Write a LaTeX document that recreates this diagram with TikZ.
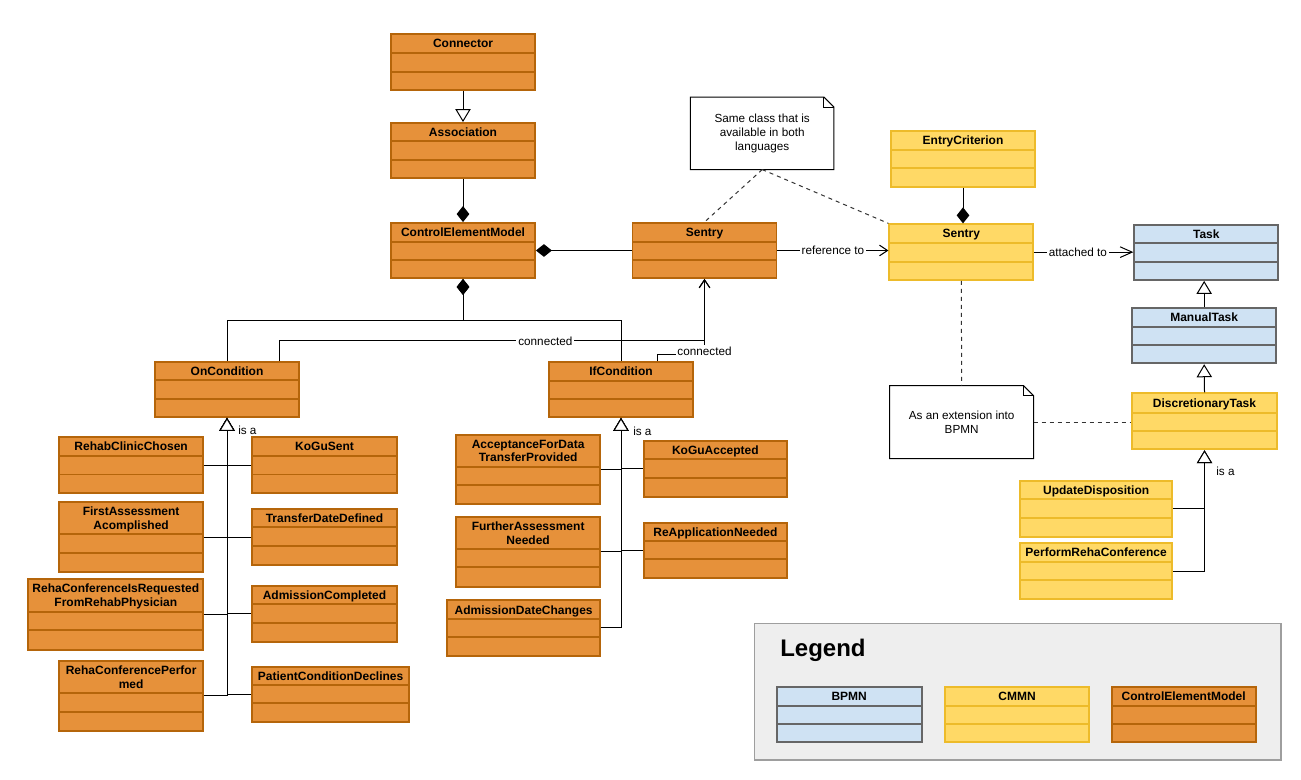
\documentclass[tikz,border=0pt]{standalone}
\usepackage{fontspec}
\setmainfont{Liberation Sans}
\usetikzlibrary{arrows.meta,calc,fit}

\definecolor{orgfill}{HTML}{E6913A}
\definecolor{orgline}{HTML}{B5650A}
\definecolor{ylwfill}{HTML}{FFD966}
\definecolor{ylwline}{HTML}{EDBB2A}
\definecolor{bluefill}{HTML}{CFE2F3}
\definecolor{blueline}{HTML}{666666}
\definecolor{legendfill}{HTML}{EEEEEE}
\definecolor{legendline}{HTML}{9E9E9E}

% UML class box: #1 style, #2 name, #3 left, #4 top, #5 right,
% #6 first rule, #7 second rule, #8 bottom, #9 title
\newcommand\umlclass[9]{%
  \node[fit={(#3,#4)(#5,#8)}, inner sep=0pt, #1] (#2) {};
  \draw[#1, fill=none] (#3,#6) -- (#5,#6) (#3,#7) -- (#5,#7);
  \node[classtitle] (#2title) at ({(#3+#5)/2},{(#4+#6)/2}) {#9};
}

\tikzset{
  orangecls/.style={draw=orgline, fill=orgfill, line width=1.4pt},
  yellowcls/.style={draw=ylwline, fill=ylwfill, line width=1.4pt},
  bluecls/.style={draw=blueline, fill=bluefill, line width=1.4pt},
  classtitle/.style={font=\fontsize{9}{10.3}\selectfont\bfseries, align=center,
    inner sep=0pt, text depth=0pt},
  lbl/.style={font=\fontsize{8.8}{10.5}\selectfont, inner sep=1.5pt},
  link/.style={draw=black, line width=0.75pt},
  gen/.style={link, -{Triangle[fill=white, length=9.75pt, width=11.5pt]}},
  comp/.style={link, -{Diamond[length=12pt, width=9.5pt]}},
  assoc/.style={link, -{Straight Barb[length=6pt, width=8pt]}},
  notelink/.style={draw=black!80, line width=0.75pt, dash pattern=on 3pt off 3pt},
  notebox/.style={draw=black, fill=white, line width=0.75pt},
}

\begin{document}
\begin{tikzpicture}[x=0.75pt, y=-0.75pt]
\useasboundingbox (0,0) rectangle (1301,780);

% ---------- legend panel ----------
\node[fit={(754.3,623.3)(1281,760)}, inner sep=0pt, draw=legendline,
  fill=legendfill, line width=1pt] (legend) {};
\node[font=\fontsize{18}{20}\selectfont\bfseries, anchor=base west, inner sep=0pt]
  (legendtitle) at (780,656) {Legend};
\umlclass{bluecls}{lgBPMN}{776.7}{686.7}{921.7}{705.7}{724}{742.3}{BPMN}
\umlclass{yellowcls}{lgCMMN}{945}{686.7}{1089}{705.7}{724}{742.3}{CMMN}
\umlclass{orangecls}{lgCEM}{1111.7}{686.7}{1255.7}{705.7}{724}{742.3}{ControlElementModel}

% ---------- control element model (orange) ----------
\umlclass{orangecls}{Connector}{391}{34}{535}{53}{72}{90}{Connector}
\umlclass{orangecls}{Association}{391}{123}{535}{141}{160}{178}{Association}
\umlclass{orangecls}{CEM}{391}{223}{535}{242}{260}{278}{ControlElementModel}
\umlclass{orangecls}{SentryA}{632.5}{223}{776.5}{242}{260}{278}{Sentry}
\umlclass{orangecls}{OnCondition}{155}{362}{299}{380}{399}{417}{OnCondition}
\umlclass{orangecls}{IfCondition}{549}{362}{693}{381}{399}{417}{IfCondition}

\umlclass{orangecls}{RehabClinicChosen}{59}{437}{203.3}{456}{474.5}{493}{RehabClinicChosen}
\umlclass{orangecls}{KoGuSent}{252.3}{437}{396.7}{456}{474.5}{493}{KoGuSent}
\umlclass{orangecls}{FirstAssessment}{59}{502.3}{203.3}{534}{553}{572.3}{FirstAssessment\\Acomplished}
\umlclass{orangecls}{TransferDateDefined}{252.3}{509.3}{396.7}{527.3}{546}{565}{TransferDateDefined}
\umlclass{orangecls}{RehaConfRequested}{28.3}{579.3}{203.3}{611.7}{630}{650}{RehaConferenceIsRequested\\FromRehabPhysician}
\umlclass{orangecls}{AdmissionCompleted}{252.3}{585.7}{396.7}{604.3}{622.7}{641.7}{AdmissionCompleted}
\umlclass{orangecls}{RehaConfPerformed}{59}{660.7}{203.3}{693.3}{711.7}{730.7}{RehaConferencePerfor\\med}
\umlclass{orangecls}{PatientCondition}{252.3}{666.7}{409}{685}{703.3}{722.3}{PatientConditionDeclines}

\umlclass{orangecls}{AcceptanceData}{456}{435}{600.3}{466.7}{485}{504.3}{AcceptanceForData\\TransferProvided}
\umlclass{orangecls}{KoGuAccepted}{643.7}{441}{787}{459.3}{477.7}{496.7}{KoGuAccepted}
\umlclass{orangecls}{FurtherAssessment}{456}{516.7}{600.3}{549}{567.3}{586.7}{FurtherAssessment\\Needed}
\umlclass{orangecls}{ReApplication}{643.7}{522.7}{787}{541}{559.3}{578.3}{ReApplicationNeeded}
\umlclass{orangecls}{AdmissionDate}{447.3}{600}{600}{619.3}{637.3}{655.7}{AdmissionDateChanges}

% ---------- CMMN (yellow) ----------
\umlclass{yellowcls}{EntryCriterion}{890.7}{130.7}{1035.3}{150}{168.3}{186.7}{EntryCriterion}
\umlclass{yellowcls}{SentryY}{889.3}{224.3}{1033.3}{243.3}{261.7}{280}{Sentry}
\umlclass{yellowcls}{Discretionary}{1132.3}{393.3}{1276.7}{412.7}{431}{449.3}{DiscretionaryTask}
\umlclass{yellowcls}{UpdateDisposition}{1020}{480.7}{1172.3}{499.3}{517.7}{536.7}{UpdateDisposition}
\umlclass{yellowcls}{PerformReha}{1020}{542.7}{1172.3}{561.7}{580}{599.3}{PerformRehaConference}

% ---------- BPMN (blue) ----------
\umlclass{bluecls}{Task}{1134.3}{225}{1278.3}{243.3}{261.7}{280}{Task}
\umlclass{bluecls}{ManualTask}{1132.3}{308.3}{1276}{326.7}{345}{363.3}{ManualTask}

% ---------- notes ----------
\node[fit={(690.7,97.3)(833.7,169.3)}, inner sep=0pt] (noteSame) {};
\draw[notebox] (noteSame.north west) -- ($(noteSame.north east)+(-10,0)$)
  -- ($(noteSame.north east)+(0,10)$) -- (noteSame.south east)
  -- (noteSame.south west) -- cycle;
\draw[notebox, fill=none] ($(noteSame.north east)+(-10,0)$)
  -- ($(noteSame.north east)+(-10,10)$) -- ($(noteSame.north east)+(0,10)$);
\node[lbl, align=center] (noteSameText) at (noteSame.center)
  {Same class that is\\available in both\\languages};

\node[fit={(890,386)(1033.3,458.3)}, inner sep=0pt] (noteExt) {};
\draw[notebox] (noteExt.north west) -- ($(noteExt.north east)+(-10,0)$)
  -- ($(noteExt.north east)+(0,10)$) -- (noteExt.south east)
  -- (noteExt.south west) -- cycle;
\draw[notebox, fill=none] ($(noteExt.north east)+(-10,0)$)
  -- ($(noteExt.north east)+(-10,10)$) -- ($(noteExt.north east)+(0,10)$);
\node[lbl, align=center] (noteExtText) at (noteExt.center)
  {As an extension into\\BPMN};

% ---------- note links ----------
\draw[notelink] (noteSame.south) -- (SentryA.north);
\draw[notelink] (noteSame.south) -- (SentryY.north west);
\draw[notelink] (SentryY.south) -- (noteExt.north);
\draw[notelink] (noteExt.east) -- (noteExt.east -| Discretionary.west);

% ---------- compositions ----------
\draw[comp] (Association.south) -- (CEM.north);
\draw[comp] (SentryA.west) -- (CEM.east);
\draw[comp] (OnCondition.north) |- ($(CEM.south)+(0,42)$) -- (CEM.south);
\draw[comp] (IfCondition.north) |- ($(CEM.south)+(0,42)$) -- (CEM.south);
\draw[comp] (EntryCriterion.south) -- (EntryCriterion.south |- SentryY.north);

% ---------- associations ----------
\draw[assoc] ($(OnCondition.north west)+(125,0)$)
  |- node[lbl, fill=white, pos=0.813] (lblConn1) {connected}
  ($(SentryA.south)+(0,62)$) -- (SentryA.south);
\draw[assoc] ($(IfCondition.north west)+(109,0)$)
  |- ($(SentryA.south)+(0,76)$)
  node[lbl, fill=white, inner sep=1pt, yshift=3pt] (lblConn2) {connected}
  -- (SentryA.south);
\draw[assoc] (SentryA.east) -- node[lbl, fill=white] (lblRef) {reference to}
  (SentryA.east -| SentryY.west);
\draw[link, -{Straight Barb[length=9pt, width=8pt]}] (SentryY.east)
  -- node[lbl, fill=white, pos=0.44] (lblAtt) {attached to} (SentryY.east -| Task.west);

% ---------- generalisations ----------
\draw[gen] (Association.north |- Connector.south) -- (Association.north);
\draw[gen] (ManualTask.north) -- (ManualTask.north |- Task.south);
\draw[gen] (Discretionary.north) -- (ManualTask.south);

\foreach \child in {RehabClinicChosen, FirstAssessment, RehaConfRequested, RehaConfPerformed}
  \draw[gen] (\child.east) -| (OnCondition.south);
\foreach \child in {KoGuSent, TransferDateDefined, AdmissionCompleted, PatientCondition}
  \draw[gen] (\child.west) -| (OnCondition.south);
\node[lbl, anchor=west, inner sep=0pt] (isaOn) at ($(OnCondition.south)+(11,12)$) {is a};

\foreach \child in {AcceptanceData, FurtherAssessment, AdmissionDate}
  \draw[gen] (\child.east) -| (IfCondition.south);
\foreach \child in {KoGuAccepted, ReApplication}
  \draw[gen] (\child.west) -| (IfCondition.south);
\node[lbl, anchor=west, inner sep=0pt] (isaIf) at ($(IfCondition.south)+(12,13)$) {is a};

\foreach \child in {UpdateDisposition, PerformReha}
  \draw[gen] (\child.east) -| (Discretionary.south);
\node[lbl, anchor=west, inner sep=0pt] (isaDisc) at ($(Discretionary.south)+(11.5,21)$) {is a};

\end{tikzpicture}
\end{document}
